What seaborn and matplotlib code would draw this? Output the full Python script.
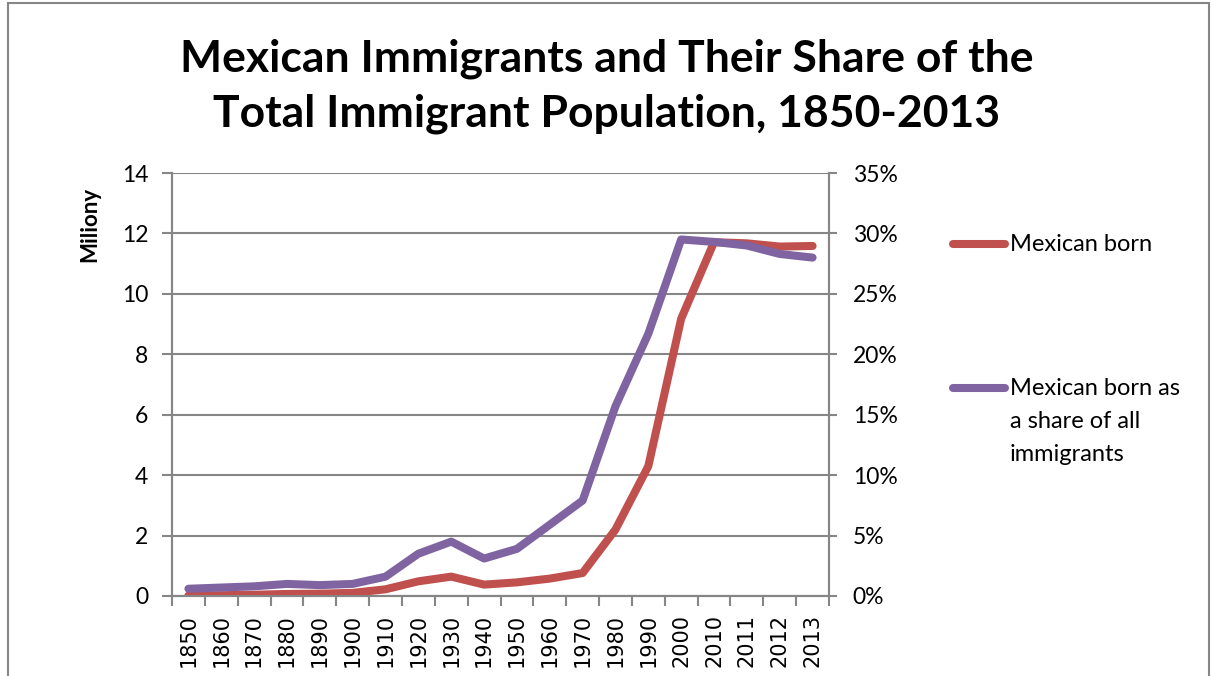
import matplotlib
matplotlib.use("Agg")
import matplotlib.pyplot as plt
from matplotlib.lines import Line2D
from matplotlib.patches import Rectangle
from matplotlib.ticker import FixedLocator, FuncFormatter, NullFormatter
import seaborn as sns
import pandas as pd

years = ["1850", "1860", "1870", "1880", "1890", "1900", "1910", "1920", "1930", "1940",
         "1950", "1960", "1970", "1980", "1990", "2000", "2010", "2011", "2012", "2013"]
mexican_born_millions = [0.013, 0.027, 0.042, 0.068, 0.078, 0.103, 0.222, 0.486, 0.641, 0.377,
                         0.451, 0.576, 0.760, 2.199, 4.298, 9.177, 11.711, 11.672, 11.565, 11.585]
share_of_immigrants_pct = [0.6, 0.7, 0.8, 1.0, 0.9, 1.0, 1.6, 3.5, 4.5, 3.1,
                           3.9, 5.9, 7.9, 15.7, 21.7, 29.5, 29.3, 29.0, 28.3, 28.0]
left_ticks = [0, 2, 4, 6, 8, 10, 12, 14]
right_ticks = [0, 5, 10, 15, 20, 25, 30, 35]

title_text = "Mexican Immigrants and Their Share of the\nTotal Immigrant Population, 1850-2013"
left_label = "Miliony"
legend_labels = ["Mexican born", "Mexican born as\na share of all\nimmigrants"]

RED = "#C0504D"
PURPLE = "#8064A2"
GRAY = "#868686"

sns.set_theme(style="white")
plt.rcParams["font.family"] = ["Lato", "DejaVu Sans"]
plt.rcParams["text.color"] = "black"
plt.rcParams["xtick.color"] = "black"
plt.rcParams["ytick.color"] = "black"

df = pd.DataFrame({
    "pos": range(len(years)),
    "year": years,
    "born": mexican_born_millions,
    "share": share_of_immigrants_pct,
})

W, H = 1212, 676
fig = plt.figure(figsize=(W / 100, H / 100), dpi=100)
fig.patch.set_facecolor("white")

x0, x1, y0, y1 = 172, 829, 173, 596
ax = fig.add_axes([x0 / W, 1 - y1 / H, (x1 - x0) / W, (y1 - y0) / H])
ax2 = ax.twinx()

lw = 5.8
sns.lineplot(data=df, x="pos", y="born", ax=ax, color=RED, linewidth=lw,
             solid_capstyle="round", solid_joinstyle="round", zorder=3)
sns.lineplot(data=df, x="pos", y="share", ax=ax2, color=PURPLE, linewidth=lw,
             solid_capstyle="round", solid_joinstyle="round", zorder=3)

n = len(years)
ax.set_xlim(-0.5, n - 0.5)
ax.set_ylim(0, 14)
ax2.set_ylim(0, 35)

# category tick labels at centers, tick marks at category boundaries
ax.xaxis.set_major_locator(FixedLocator(list(range(n))))
ax.set_xticklabels(years, rotation=90, fontsize=15, family="DejaVu Sans", color="black")
ax.xaxis.set_minor_locator(FixedLocator([i - 0.5 for i in range(n + 1)]))
ax.xaxis.set_minor_formatter(NullFormatter())
ax.tick_params(axis="x", which="major", length=0, pad=13)
ax.tick_params(axis="x", which="minor", length=7, width=1.5, color=GRAY, direction="out", bottom=True)

ax.yaxis.set_major_locator(FixedLocator(left_ticks))
ax.set_yticklabels([str(t) for t in left_ticks], fontsize=16.5, color="black")
ax.tick_params(axis="y", length=7, width=1.5, color=GRAY, direction="out", left=True, pad=10)

ax2.yaxis.set_major_locator(FixedLocator(right_ticks))
ax2.yaxis.set_major_formatter(FuncFormatter(lambda v, p: f"{int(v)}%"))
ax2.tick_params(axis="y", length=6, width=1.5, color=GRAY, direction="out", right=True, pad=11,
                labelsize=16.5, labelcolor="black")

ax.grid(True, axis="y", color=GRAY, linewidth=1.5)
ax.grid(False, axis="x")
ax2.grid(False)
ax.set_xlabel("")
ax.set_ylabel("")
ax2.set_ylabel("")

for a in (ax, ax2):
    for side in ("left", "right", "bottom"):
        a.spines[side].set_visible(True)
        a.spines[side].set_color(GRAY)
        a.spines[side].set_linewidth(1.5)
    a.spines["top"].set_visible(False)

fig.text(90 / W, 1 - 224 / H, left_label, rotation=90, fontsize=16, fontweight="bold",
         ha="center", va="center", color="black")

fig.text(607 / W, 1 - 86 / H, title_text, fontsize=32, fontweight="bold",
         ha="center", va="center", linespacing=1.45, color="black")

# legend
legend_rows = [(244, RED, legend_labels[0]), (388, PURPLE, legend_labels[1])]
for ypix, col, lab in legend_rows:
    fig.add_artist(Line2D([953 / W, 1005 / W], [1 - ypix / H, 1 - ypix / H], color=col,
                          linewidth=lw, solid_capstyle="round", transform=fig.transFigure))
    fig.text(1010 / W, 1 - (ypix - 10) / H, lab, fontsize=17, ha="left", va="top",
             linespacing=1.72, color="black")

# chart frame
fig.add_artist(Rectangle((8 / W, -0.05), (1209 - 8) / W, 1.05 - 3 / H, transform=fig.transFigure,
                         fill=False, edgecolor=GRAY, linewidth=1.5))

fig.savefig("out.png", dpi=100)
